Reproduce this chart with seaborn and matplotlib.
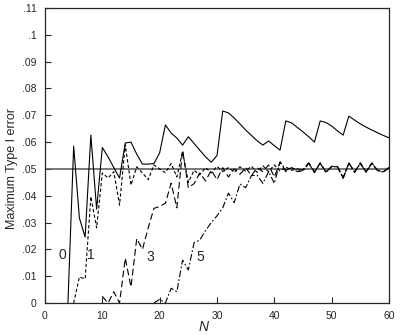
import numpy as np
import pandas as pd
import matplotlib
matplotlib.use('Agg')
import matplotlib.pyplot as plt
from matplotlib.ticker import FuncFormatter
import seaborn as sns

# ---------------------- data ----------------------
n0 = list(range(4, 61))
err0 = [0.0, 0.0585, 0.0317, 0.0246, 0.0626, 0.0350, 0.0580, 0.0545, 0.0505, 0.0466,
        0.0597, 0.0600, 0.0555, 0.0518, 0.0518, 0.0520, 0.0560, 0.0664, 0.0634, 0.0615,
        0.0589, 0.0620, 0.0595, 0.0570, 0.0545, 0.0525, 0.0550, 0.0716, 0.0709, 0.0690,
        0.0668, 0.0645, 0.0625, 0.0605, 0.0589, 0.0604, 0.0587, 0.0570, 0.0679, 0.0672,
        0.0655, 0.0638, 0.0620, 0.0600, 0.0679, 0.0673, 0.0660, 0.0642, 0.0626, 0.0697,
        0.0682, 0.0668, 0.0656, 0.0645, 0.0635, 0.0625, 0.0616]

n1 = list(range(5, 61))
err1 = [0.0, 0.0097, 0.0090, 0.0397, 0.0280, 0.0485, 0.0466, 0.0490, 0.0365, 0.0590,
        0.0440, 0.0508, 0.0485, 0.0460, 0.0515, 0.0500, 0.0486, 0.0520, 0.0470, 0.0565,
        0.0450, 0.0495, 0.0478, 0.0505, 0.0485, 0.0510, 0.0490, 0.0505, 0.0488, 0.0508,
        0.0492, 0.0510, 0.0487, 0.0512, 0.0490, 0.0515, 0.0492, 0.0508, 0.0495, 0.0500,
        0.0495, 0.0520, 0.0490, 0.0520, 0.0490, 0.0508, 0.0508, 0.0468, 0.0520, 0.0490,
        0.0520, 0.0490, 0.0520, 0.0495, 0.0490, 0.0503]

n3 = list(range(10, 61))
err3 = [0.0025, 0.0, 0.0042, 0.0, 0.0167, 0.0060, 0.0240, 0.0200, 0.0280, 0.0353,
        0.0360, 0.0372, 0.0447, 0.0355, 0.0570, 0.0430, 0.0445, 0.0485, 0.0455, 0.0495,
        0.0460, 0.0505, 0.0470, 0.0500, 0.0480, 0.0505, 0.0475, 0.0505, 0.0490, 0.0515,
        0.0470, 0.0525, 0.0490, 0.0505, 0.0495, 0.0497, 0.0523, 0.0488, 0.0523, 0.0488,
        0.0510, 0.0510, 0.0466, 0.0523, 0.0488, 0.0523, 0.0488, 0.0523, 0.0495, 0.0488,
        0.0505]

n5 = list(range(19, 61))
err5 = [0.0, 0.0014, 0.0, 0.0055, 0.0042, 0.0160, 0.0123, 0.0225, 0.0235, 0.0270,
        0.0300, 0.0325, 0.0355, 0.0410, 0.0374, 0.0444, 0.0430, 0.0475, 0.0477, 0.0446,
        0.0490, 0.0446, 0.0527, 0.0495, 0.0505, 0.0490, 0.0493, 0.0521, 0.0486, 0.0521,
        0.0487, 0.0509, 0.0509, 0.0465, 0.0521, 0.0487, 0.0521, 0.0487, 0.0521, 0.0494,
        0.0488, 0.0506]

curve_labels = ['0', '1', '3', '5']
label_pos = [(2.3, 0.018), (7.3, 0.018), (17.6, 0.017), (26.5, 0.017)]
nominal = 0.05

# ---------------------- plot ----------------------
sns.set_style('ticks')
plt.rcParams['font.family'] = ['Liberation Sans', 'DejaVu Sans']

fig = plt.figure(figsize=(4.0, 3.35), dpi=100)
ax = fig.add_axes([0.1125, 0.0955, 0.86, 0.8805])

ax.axhline(nominal, color='#555555', lw=1.1, zorder=1)

styles = ['-', (0, (3, 2)), (0, (6, 3)), (0, (6, 2, 1.5, 2))]
for (xs, ys), ls in zip([(n0, err0), (n1, err1), (n3, err3), (n5, err5)], styles):
    sns.lineplot(x=xs, y=ys, color='black', linewidth=0.8, linestyle=ls, ax=ax, zorder=2)

for lab, (x, y) in zip(curve_labels, label_pos):
    ax.text(x, y, lab, fontsize=10, ha='left', va='center')

ax.set_xlim(0, 60)
ax.set_ylim(0, 0.11)
ax.set_xticks(np.arange(0, 61, 10))
ax.set_yticks(np.arange(0, 0.111, 0.01))


def strip_zero(v, pos):
    s = f'{v:.2f}'.rstrip('0')
    if s.endswith('.'):
        s = s[:-1]
    if s.startswith('0.'):
        s = s[1:]
    return s


ax.yaxis.set_major_formatter(FuncFormatter(strip_zero))
ax.tick_params(direction='in', length=4, width=0.8, labelsize=7.5, pad=6)
for sp in ax.spines.values():
    sp.set_linewidth(0.9)

ax.set_xlabel('N', fontsize=10, style='italic')
ax.xaxis.set_label_coords(0.462, -0.058)
ax.set_ylabel('Maximum Type I error', fontsize=9)
ax.yaxis.set_label_coords(-0.078, 0.455)

fig.savefig('out.png', dpi=100)
